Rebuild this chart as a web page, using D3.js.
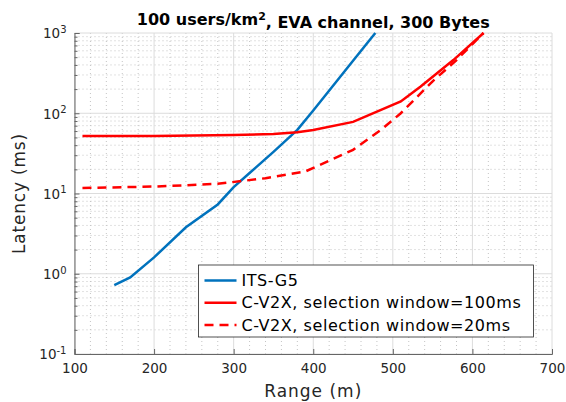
<!DOCTYPE html>
<html>
<head>
<meta charset="utf-8">
<script src="https://cdn.jsdelivr.net/npm/d3@7"></script>
<style>
  body { margin: 0; background: #fff; }
  svg { display: block; font-family: "DejaVu Sans", sans-serif; }
</style>
</head>
<body>
<svg id="chart" width="566" height="402"></svg>
<script>
// ITS-G5
const g5Range = [150, 170, 200, 240, 280, 300, 320, 350, 380, 400, 450, 478];
const g5Latency = [0.72, 0.9, 1.6, 3.8, 7.3, 12, 18, 33, 62, 108, 450, 1000];

// C-V2X, selection window = 100ms
const c100Range = [110, 200, 300, 350, 380, 400, 450, 510, 535, 576, 614];
const c100Latency = [52, 52, 53.5, 55, 58, 62, 78, 140, 215, 460, 1000];

// C-V2X, selection window = 20ms
const c20Range = [110, 200, 280, 340, 390, 450, 485, 510, 550, 580, 614];
const c20Latency = [11.7, 12.2, 13.2, 15.5, 18.8, 35, 62, 100, 250, 460, 1000];

const xTicks = [100, 200, 300, 400, 500, 600, 700];
const yTicks = [0.1, 1, 10, 100, 1000];
const yExponents = ['-1', '0', '1', '2', '3'];

const seriesNames = ['ITS-G5', 'C-V2X, selection window=100ms', 'C-V2X, selection window=20ms'];

const svg = d3.select('#chart');
const plot = { left: 74.5, right: 552, top: 33, bottom: 354 };

const x = d3.scaleLinear().domain([100, 700]).range([plot.left, plot.right]);
const y = d3.scaleLog().domain([0.1, 1000]).range([plot.bottom, plot.top]);

// minor grid
const xMinor = d3.range(100, 701, 20).filter(v => v % 100 !== 0);
const yMinor = [];
[0.1, 1, 10, 100].forEach(d => { for (let k = 2; k <= 9; k++) yMinor.push(d * k); });

const grid = svg.append('g');
grid.selectAll('.xmin').data(xMinor).join('line')
  .attr('x1', d => x(d)).attr('x2', d => x(d)).attr('y1', plot.top).attr('y2', plot.bottom)
  .attr('stroke', '#c4c4c4').attr('stroke-dasharray', '1,3');
grid.selectAll('.ymin').data(yMinor).join('line')
  .attr('x1', plot.left).attr('x2', plot.right).attr('y1', d => y(d)).attr('y2', d => y(d))
  .attr('stroke', '#c4c4c4').attr('stroke-dasharray', '1,3');
grid.selectAll('.xmaj').data(xTicks).join('line')
  .attr('x1', d => x(d)).attr('x2', d => x(d)).attr('y1', plot.top).attr('y2', plot.bottom)
  .attr('stroke', '#dcdcdc');
grid.selectAll('.ymaj').data(yTicks).join('line')
  .attr('x1', plot.left).attr('x2', plot.right).attr('y1', d => y(d)).attr('y2', d => y(d))
  .attr('stroke', '#dcdcdc');

// axes
const xAxis = svg.append('g').attr('transform', `translate(0,${plot.bottom})`)
  .call(d3.axisBottom(x).tickValues(xTicks).tickSize(-5).tickPadding(9).tickFormat(d3.format('d')));
const yMinorAxis = svg.append('g').attr('transform', `translate(${plot.left},0)`)
  .call(d3.axisLeft(y).tickValues(yMinor).tickSize(-3).tickFormat(''));
yMinorAxis.select('.domain').remove();
const yAxis = svg.append('g').attr('transform', `translate(${plot.left},0)`)
  .call(d3.axisLeft(y).tickValues(yTicks).tickSize(-5).tickPadding(14).tickFormat(''));

[xAxis, yAxis, yMinorAxis].forEach(a => {
  a.selectAll('.domain').attr('stroke', '#666');
  a.selectAll('.tick line').attr('stroke', '#666');
  a.selectAll('text').attr('fill', '#262626').style('font-size', '13.5px')
    .style('font-family', '"DejaVu Sans", sans-serif');
});

yAxis.selectAll('.tick text').each(function(d, i) {
  const t = d3.select(this).attr('dy', '0.36em');
  t.append('tspan').text('10');
  t.append('tspan').attr('dy', '-0.55em').style('font-size', '10px').text(yExponents[i]);
});
yAxis.selectAll('.tick text').attr('text-anchor', 'end').attr('x', -8);

// lines
const lineGen = d3.line().x(d => x(d[0])).y(d => y(d[1]));
const series = [
  { r: g5Range, v: g5Latency, color: '#0072BD', dash: null },
  { r: c100Range, v: c100Latency, color: '#FF0000', dash: null },
  { r: c20Range, v: c20Latency, color: '#FF0000', dash: '9,6' },
];
series.forEach(s => {
  svg.append('path')
    .datum(s.r.map((r, i) => [r, s.v[i]]))
    .attr('fill', 'none')
    .attr('stroke', s.color)
    .attr('stroke-width', 2.5)
    .attr('stroke-dasharray', s.dash)
    .attr('d', lineGen);
});

// title
const title = svg.append('text').attr('x', (plot.left + plot.right) / 2).attr('y', 25)
  .attr('text-anchor', 'middle').style('font-size', '16px').style('font-weight', 'bold')
  .attr('fill', '#000');
title.append('tspan').text('100 users/km');
title.append('tspan').attr('dy', '-0.5em').style('font-size', '11px').text('2');
title.append('tspan').attr('dy', '0.5em').text(', EVA channel, 300 Bytes');

// axis labels
svg.append('text').attr('x', (plot.left + plot.right) / 2).attr('y', 397)
  .attr('text-anchor', 'middle').style('font-size', '17px').style('letter-spacing', '1px')
  .attr('fill', '#262626').text('Range (m)');
svg.append('text').attr('transform', `translate(25,${(plot.top + plot.bottom) / 2}) rotate(-90)`)
  .attr('text-anchor', 'middle').style('font-size', '17px').style('letter-spacing', '0.8px')
  .attr('fill', '#262626').text('Latency (ms)');

// legend
const legend = svg.append('g').attr('transform', 'translate(198.5,265)');
legend.append('rect').attr('width', 335).attr('height', 72)
  .attr('fill', '#fff').attr('stroke', '#262626').attr('stroke-width', 0.8);
series.forEach((s, i) => {
  const ly = 15.5 + i * 22.2;
  legend.append('line').attr('x1', 6).attr('x2', 38).attr('y1', ly).attr('y2', ly)
    .attr('stroke', s.color).attr('stroke-width', 2.5).attr('stroke-dasharray', s.dash);
  legend.append('text').attr('x', 43).attr('y', ly).attr('dy', '0.36em')
    .style('font-size', '16px').style('letter-spacing', '0.55px').attr('fill', '#000')
    .text(seriesNames[i]);
});
</script>
</body>
</html>
